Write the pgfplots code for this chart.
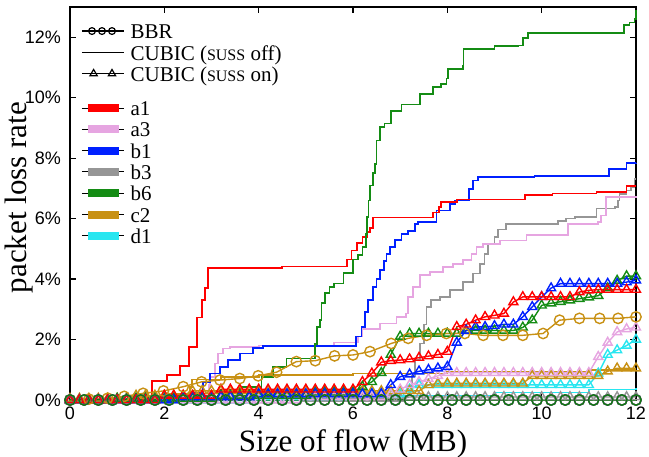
\documentclass[border=0pt]{standalone}
\usepackage{fontspec}
\setmainfont{Liberation Serif}
\setsansfont{Liberation Sans}
\newfontfamily\lgfont{Liberation Serif}
\usepackage{pgfplots}
\usepackage{pgfplotstable}
\pgfplotsset{compat=1.18}

\definecolor{cA1}{RGB}{255,0,0}
\definecolor{cA3}{RGB}{230,165,225}
\definecolor{cB1}{RGB}{0,32,255}
\definecolor{cB3}{RGB}{150,150,150}
\definecolor{cB6}{RGB}{20,140,20}
\definecolor{cC2}{RGB}{200,145,20}
\definecolor{cD1}{RGB}{40,230,240}

\newcommand\ls{\rule[-3pt]{0pt}{12.15pt}}
\newcommand\lt[1]{{\lgfont\fontsize{10.5}{12}\selectfont #1\ls}}
\newcommand\sm[1]{{\fontsize{8}{8}\selectfont #1}}

% CUBIC with SUSS on, sampled every 0.2 MB
\pgfplotstableread{
x    a1   a3   b1   b3   b6   c2   d1
0.0  0    0    0    0    0    0.05 0
0.2  0    0    0    0    0    0.05 0
0.4  0    0    0    0    0    0.05 0
0.6  0    0    0    0    0    0.05 0
0.8  0    0    0    0    0    0.05 0
1.0  0    0    0    0    0.05 0.05 0
1.2  0    0    0    0    0.05 0.05 0
1.4  0    0    0    0    0.05 0.15 0
1.6  0    0    0    0    0.05 0.15 0
1.8  0    0    0    0    0.05 0.15 0
2.0  0.15 0    0    0    0.05 0.15 0
2.2  0.15 0    0    0    0.05 0.15 0
2.4  0.15 0    0.1  0    0.05 0.15 0
2.6  0.15 0    0.1  0    0.05 0.3  0
2.8  0.15 0    0.1  0    0.05 0.3  0
3.0  0.15 0    0.1  0    0.05 0.3  0
3.2  0.35 0    0.1  0    0.15 0.3  0
3.4  0.35 0    0.1  0    0.15 0.3  0
3.6  0.35 0    0.1  0    0.15 0.3  0
3.8  0.35 0    0.1  0    0.15 0.3  0
4.0  0.35 0    0.2  0    0.15 0.3  0.1
4.2  0.35 0    0.2  0    0.15 0.3  0.1
4.4  0.35 0    0.2  0    0.15 0.3  0.1
4.6  0.35 0    0.2  0    0.15 0.3  0.1
4.8  0.35 0    0.2  0    0.15 0.3  0.1
5.0  0.35 0.1  0.2  0.05 0.15 0.3  0.1
5.2  0.35 0.1  0.2  0.05 0.25 0.3  0.1
5.4  0.35 0.1  0.2  0.05 0.25 0.3  0.1
5.6  0.35 0.1  0.2  0.05 0.25 0.3  0.1
5.8  0.35 0.1  0.2  0.05 0.25 0.3  0.1
6.0  0.35 0.1  0.2  0.05 0.25 0.3  0.2
6.2  0.6  0.1  0.2  0.05 0.44 0.3  0.2
6.4  0.88 0.1  0.2  0.05 0.6  0.3  0.2
6.6  1.25 0.1  0.2  0.05 0.9  0.3  0.2
6.8  1.3  0.2  0.5  0.05 1.5  0.3  0.2
7.0  1.32 0.35 0.77 0.05 2.1  0.3  0.2
7.2  1.35 0.5  0.85 0.1  2.2  0.3  0.35
7.4  1.4  0.6  0.95 0.1  2.2  0.3  0.5
7.6  1.45 0.7  1.0  0.1  2.2  0.5  0.5
7.8  1.5  0.8  1.05 0.1  2.2  0.55 0.5
8.0  1.6  0.9  1.1  0.1  2.2  0.55 0.5
8.2  2.42 0.9  1.9  0.1  2.2  0.55 0.5
8.4  2.5  0.9  2.3  0.1  2.3  0.55 0.5
8.6  2.64 0.9  2.42 0.1  2.3  0.55 0.5
8.8  2.75 0.9  2.42 0.1  2.3  0.55 0.5
9.0  2.8  0.9  2.45 0.1  2.3  0.55 0.5
9.2  2.86 0.9  2.5  0.1  2.3  0.55 0.5
9.4  3.24 0.9  2.5  0.1  2.3  0.55 0.5
9.6  3.41 0.9  2.75 0.1  2.4  0.55 0.5
9.8  3.41 0.9  3.08 0.1  2.64 0.8  0.5
10.0 3.41 0.9  3.41 0.1  3.13 0.8  0.5
10.2 3.41 0.9  3.7  0.1  3.2  0.8  0.5
10.4 3.41 0.9  3.85 0.1  3.25 0.8  0.5
10.6 3.41 0.9  3.85 0.1  3.3  0.8  0.5
10.8 3.57 0.9  3.85 0.1  3.35 0.8  0.5
11.0 3.63 0.9  3.85 0.1  3.4  0.8  0.5
11.2 3.65 1.43 3.85 0.1  3.45 0.8  0.88
11.4 3.65 1.9  3.85 0.1  3.7  0.95 1.5
11.6 3.65 2.25 3.85 0.1  3.95 1.05 1.65
11.8 3.65 2.35 3.9  0.1  4.1  1.05 1.8
12.0 3.65 2.4  3.96 0.1  4.1  1.05 2.0
}\susson

\pgfplotsset{
  off/.style={const plot, no markers, line width=0.85pt, forget plot},
  on/.style={mark=triangle, mark size=2.6pt, line width=0.7pt, mark options={solid}, forget plot},
  bbr/.style={mark=o, mark size=2.6pt, line width=0.7pt, mark options={solid}, forget plot},
}

\begin{document}
\begin{tikzpicture}
\begin{axis}[
  scale only axis,
  width=283pt, height=196.5pt,
  xmin=0, xmax=12, ymin=0, ymax=13,
  xtick={0,2,...,12}, ytick={0,2,...,12},
  xticklabels={0,2,4,6,8,10,12},
  yticklabels={0\%,2\%,4\%,6\%,8\%,10\%,12\%},
  tick align=inside, major tick length=3pt,
  tick style={black, line width=0.6pt},
  axis line style={line width=0.8pt},
  ticklabel style={font=\fontsize{9}{10}\selectfont\sffamily},
  yticklabel style={xshift=-1pt},
  /pgf/number format/assume math mode=true,
  xlabel={\rmfamily Size of flow (MB)},
  ylabel={\rmfamily packet loss rate},
  label style={font=\fontsize{15.5}{18}\selectfont},
  xlabel style={yshift=2pt},
  ylabel style={at={(axis description cs:-0.09,0.515)}, anchor=center},
  clip=false,
  legend cell align=left,
  legend style={at={(axis description cs:0,1)}, anchor=north west,
    xshift=2.5pt, yshift=-4.5pt, draw=none, fill=none,
    row sep=0pt, column sep=3pt, nodes={inner sep=0pt}},
]
% legend
\addlegendimage{legend image code/.code={
  \draw[black, line width=0.6pt] (0pt,0pt) -- (21pt,0pt);
  \draw[black, line width=0.6pt, fill=white] plot[only marks, mark=o, mark size=1.7pt] coordinates {(5pt,0pt) (10pt,0pt) (15pt,0pt)};}}
\addlegendentry{\lt{BBR}}
\addlegendimage{legend image code/.code={
  \draw[black, line width=0.5pt] (0pt,0pt) -- (21pt,0pt);}}
\addlegendentry{\lt{CUBIC (\sm{SUSS} off)}}
\addlegendimage{legend image code/.code={
  \draw[black, line width=0.6pt] (0pt,0pt) -- (21pt,0pt);
  \draw[black, line width=0.6pt] plot[only marks, mark=triangle, mark size=2.1pt] coordinates {(5.8pt,0pt) (15pt,0pt)};}}
\addlegendentry{\lt{CUBIC (\sm{SUSS} on)}}
\addlegendimage{empty legend}
\addlegendentry{\rule{0pt}{5pt}}
\addlegendimage{legend image code/.code={\path (0pt,0pt) -- (21pt,0pt); \fill[cA1] (3pt,-1.75pt) rectangle (18pt,1.75pt);}}
\addlegendentry{\lt{a1}}
\addlegendimage{legend image code/.code={\path (0pt,0pt) -- (21pt,0pt); \fill[cA3] (3pt,-1.75pt) rectangle (18pt,1.75pt);}}
\addlegendentry{\lt{a3}}
\addlegendimage{legend image code/.code={\path (0pt,0pt) -- (21pt,0pt); \fill[cB1] (3pt,-1.75pt) rectangle (18pt,1.75pt);}}
\addlegendentry{\lt{b1}}
\addlegendimage{legend image code/.code={\path (0pt,0pt) -- (21pt,0pt); \fill[cB3] (3pt,-1.75pt) rectangle (18pt,1.75pt);}}
\addlegendentry{\lt{b3}}
\addlegendimage{legend image code/.code={\path (0pt,0pt) -- (21pt,0pt); \fill[cB6] (3pt,-1.75pt) rectangle (18pt,1.75pt);}}
\addlegendentry{\lt{b6}}
\addlegendimage{legend image code/.code={\path (0pt,0pt) -- (21pt,0pt); \fill[cC2] (3pt,-1.75pt) rectangle (18pt,1.75pt);}}
\addlegendentry{\lt{c2}}
\addlegendimage{legend image code/.code={\path (0pt,0pt) -- (21pt,0pt); \fill[cD1] (3pt,-1.75pt) rectangle (18pt,1.75pt);}}
\addlegendentry{\lt{d1}}

% CUBIC, SUSS off
\addplot[off, cD1] coordinates {(0,0) (4,0.05) (7,0.15) (9,0.25) (11,0.35) (12,0.4)};
\addplot[off, cC2] coordinates {(0,0) (1.5,0.1) (2.1,0.2) (2.54,0.44) (2.58,0.68) (3.2,0.77) (4.0,0.82) (6.0,0.88) (8.0,0.93) (11.0,0.99) (12,0.99)};
\addplot[off, cB3] coordinates {(0,0) (4.0,0.05) (6.7,0.15) (7.0,0.3) (7.25,0.8) (7.31,1.32) (7.42,1.87) (7.5,2.5) (7.56,3.08) (7.66,3.3) (7.84,3.41) (8.05,3.63) (8.33,3.9) (8.54,4.18) (8.69,4.51) (8.79,4.84) (8.86,5.17) (9.0,5.39) (9.07,5.64) (9.25,5.83) (10.34,5.92) (10.52,6.0) (10.7,6.05) (11.16,6.33) (11.55,6.38) (11.62,6.6) (11.65,6.82) (11.8,6.93) (11.9,7.04) (11.97,7.32) (12,7.32)};
\addplot[off, cA3] coordinates {(0,0) (2.5,0.05) (2.9,0.1) (2.95,0.5) (2.97,0.77) (3.07,1.21) (3.14,1.54) (3.25,1.7) (3.39,1.76) (4.0,1.8) (5.6,1.9) (6.1,2.1) (6.2,2.35) (6.57,2.53) (6.92,2.75) (7.13,2.86) (7.17,3.41) (7.27,3.74) (7.42,4.13) (7.63,4.23) (7.91,4.4) (8.12,4.51) (8.33,4.62) (8.51,4.84) (8.62,5.06) (8.76,5.17) (9.11,5.28) (9.68,5.45) (10.56,5.83) (11.19,5.88) (11.26,6.1) (11.36,6.71) (12,6.75)};
\addplot[off, cB1] coordinates {(0,0) (2.4,0.1) (2.65,0.23) (2.82,0.6) (2.97,0.88) (3.18,1.1) (3.35,1.32) (3.6,1.54) (3.88,1.71) (4.09,1.78) (6.07,2.1) (6.18,2.42) (6.25,2.9) (6.32,3.3) (6.43,3.74) (6.5,4.0) (6.57,4.3) (6.65,4.6) (6.71,4.84) (6.78,5.06) (6.89,5.3) (7.03,5.5) (7.17,5.6) (7.31,5.83) (7.38,5.88) (7.77,6.27) (8.05,6.49) (8.16,6.6) (8.46,6.98) (8.54,7.26) (8.65,7.37) (9.85,7.42) (11.43,7.65) (11.8,7.83) (12,7.85)};
\addplot[off, cA1] coordinates {(0,0) (1.74,0.63) (2.05,0.82) (2.33,1.12) (2.53,1.76) (2.7,2.73) (2.8,3.3) (2.86,3.7) (2.93,4.37) (4.5,4.42) (5.87,4.65) (5.97,4.95) (6.08,5.2) (6.2,5.4) (6.29,5.55) (6.36,5.68) (6.42,6.04) (7.69,6.2) (7.82,6.38) (7.87,6.55) (8.2,6.63) (9.65,6.79) (10.23,6.83) (11.16,6.88) (11.8,7.08) (12,7.08)};
\addplot[off, cB6] coordinates {(0,0) (2.0,0.1) (3.3,0.23) (3.6,0.44) (4.06,0.77) (4.3,1.1) (4.59,1.37) (5.2,1.85) (5.23,2.42) (5.3,2.64) (5.33,3.2) (5.4,3.53) (5.5,3.74) (5.6,3.85) (5.8,4.2) (6.0,4.65) (6.1,4.8) (6.2,5.06) (6.27,5.5) (6.3,6.05) (6.33,6.6) (6.36,7.1) (6.42,7.5) (6.46,7.8) (6.5,8.58) (6.57,9.02) (6.67,9.15) (6.81,9.57) (7.03,9.77) (7.42,10.12) (7.7,10.36) (7.87,10.45) (7.98,10.63) (8.02,10.94) (8.33,11.06) (8.34,11.6) (9.0,11.7) (9.5,11.73) (9.6,11.97) (9.71,12.15) (11.74,12.41) (11.86,12.49) (11.97,12.6) (12,12.9)};

% CUBIC, SUSS on
\addplot[on, cB3] table[x=x, y=b3] {\susson};
\addplot[on, cD1] table[x=x, y=d1] {\susson};
\addplot[on, cC2] table[x=x, y=c2] {\susson};
\addplot[on, cA3] table[x=x, y=a3] {\susson};
\addplot[on, cB6] table[x=x, y=b6] {\susson};
\addplot[on, cB1] table[x=x, y=b1] {\susson};
\addplot[on, cA1] table[x=x, y=a1] {\susson};

% BBR
\addplot[bbr, cC2] coordinates {(0,0) (0.4,0.03) (0.8,0.06) (1.15,0.12) (1.55,0.22) (1.98,0.3) (2.4,0.44) (2.79,0.6) (3.18,0.66) (3.6,0.71) (3.99,0.8) (4.38,0.92) (4.8,1.27) (5.2,1.3) (5.61,1.46) (6.0,1.49) (6.36,1.6) (6.81,1.87) (7.17,2.04) (7.56,2.14) (7.98,2.2) (8.37,2.2) (8.76,2.14) (9.18,2.14) (9.6,2.14) (10.03,2.2) (10.38,2.64) (10.8,2.7) (11.23,2.7) (11.62,2.7) (12,2.75)};
\addplot[bbr, cA1] coordinates {(0,0) (0.3,0) (0.6,0) (0.9,0) (1.2,0) (1.5,0) (1.8,0) (2.1,0) (2.4,0) (2.7,0) (3.0,0) (3.3,0) (3.6,0) (3.9,0) (4.2,0) (4.5,0) (4.8,0) (5.1,0) (5.4,0) (5.7,0) (6.0,0) (6.3,0) (6.6,0) (6.9,0) (7.2,0) (7.5,0) (7.8,0) (8.1,0) (8.4,0) (8.7,0) (9.0,0) (9.3,0) (9.6,0) (9.9,0) (10.2,0) (10.5,0) (10.8,0) (11.1,0) (11.4,0) (11.7,0) (12.0,0)};
\addplot[bbr, cB1] coordinates {(0,0) (0.3,0) (0.6,0) (0.9,0) (1.2,0) (1.5,0) (1.8,0) (2.1,0) (2.4,0) (2.7,0) (3.0,0) (3.3,0) (3.6,0) (3.9,0) (4.2,0) (4.5,0) (4.8,0) (5.1,0) (5.4,0) (5.7,0) (6.0,0) (6.3,0) (6.6,0) (6.9,0) (7.2,0) (7.5,0) (7.8,0) (8.1,0) (8.4,0) (8.7,0) (9.0,0) (9.3,0) (9.6,0) (9.9,0) (10.2,0) (10.5,0) (10.8,0) (11.1,0) (11.4,0) (11.7,0) (12.0,0)};
\addplot[bbr, cB3] coordinates {(0,0) (0.3,0) (0.6,0) (0.9,0) (1.2,0) (1.5,0) (1.8,0) (2.1,0) (2.4,0) (2.7,0) (3.0,0) (3.3,0) (3.6,0) (3.9,0) (4.2,0) (4.5,0) (4.8,0) (5.1,0) (5.4,0) (5.7,0) (6.0,0) (6.3,0) (6.6,0) (6.9,0) (7.2,0) (7.5,0) (7.8,0) (8.1,0) (8.4,0) (8.7,0) (9.0,0) (9.3,0) (9.6,0) (9.9,0) (10.2,0) (10.5,0) (10.8,0) (11.1,0) (11.4,0) (11.7,0) (12.0,0)};
\addplot[bbr, cB6!85!black] coordinates {(0,0) (0.3,0) (0.6,0) (0.9,0) (1.2,0) (1.5,0) (1.8,0) (2.1,0) (2.4,0) (2.7,0) (3.0,0) (3.3,0) (3.6,0) (3.9,0) (4.2,0) (4.5,0) (4.8,0) (5.1,0) (5.4,0) (5.7,0) (6.0,0) (6.3,0) (6.6,0) (6.9,0) (7.2,0) (7.5,0) (7.8,0) (8.1,0) (8.4,0) (8.7,0) (9.0,0) (9.3,0) (9.6,0) (9.9,0) (10.2,0) (10.5,0) (10.8,0) (11.1,0) (11.4,0) (11.7,0) (12.0,0)};
\end{axis}
\pgfresetboundingbox
\path[use as bounding box] (-35pt,-28pt) rectangle (289.5pt,200pt);
\end{tikzpicture}
\end{document}
